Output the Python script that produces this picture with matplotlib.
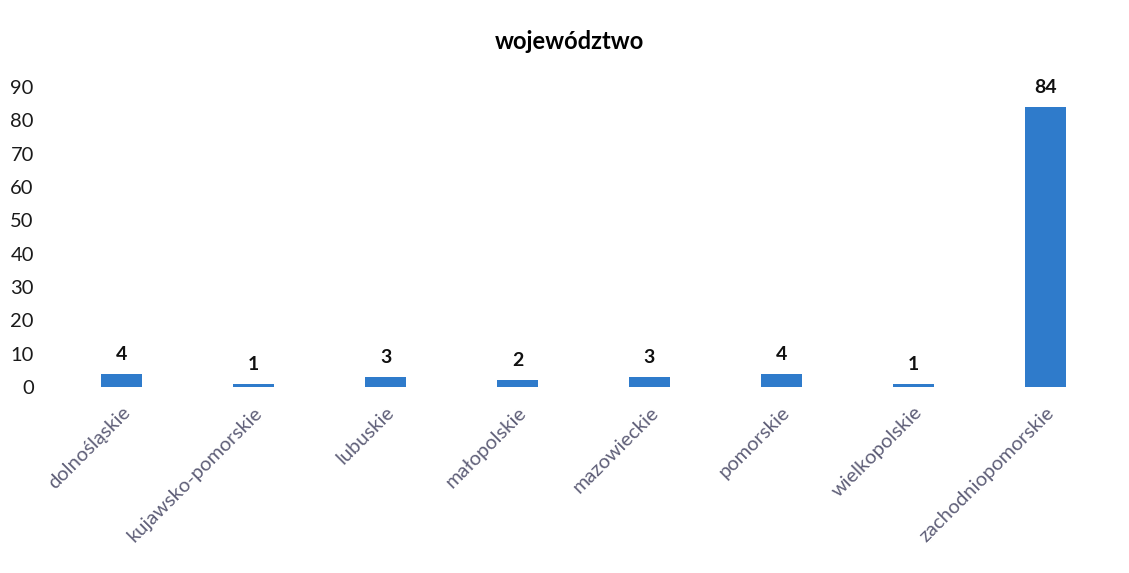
import matplotlib
matplotlib.use("Agg")
import matplotlib.pyplot as plt

# data
regions = ["dolnośląskie", "kujawsko-pomorskie", "lubuskie", "małopolskie",
           "mazowieckie", "pomorskie", "wielkopolskie", "zachodniopomorskie"]
counts = [4, 1, 3, 2, 3, 4, 1, 84]
yticks = [0, 10, 20, 30, 40, 50, 60, 70, 80, 90]

plt.rcParams['font.family'] = ['Lato', 'DejaVu Sans']

fig = plt.figure(figsize=(11.29, 5.73), dpi=100)
ax = fig.add_axes([0.0496, 0.3246, 0.9345, 0.5236])

x = list(range(len(regions)))
ax.bar(x, counts, width=0.31, color='#2f7bcb')

for xi, v in zip(x, counts):
    ax.annotate(str(v), (xi, v), xytext=(0, 8), textcoords='offset points',
                ha='center', va='bottom', fontsize=14, fontweight='bold', color='#111111')

ax.set_xlim(-0.5, 7.5)
ax.set_ylim(0, 90)
ax.set_yticks(yticks)
ax.set_yticklabels([str(t) for t in yticks], fontsize=14.5, color='#1a1a1a')
ax.set_xticks(x)
ax.set_xticklabels(regions, rotation=45, ha='right', va='top', rotation_mode='anchor',
                   fontsize=14.5, color='#5f5f78')
ax.tick_params(axis='both', length=0)
ax.tick_params(axis='y', pad=16)
ax.tick_params(axis='x', pad=12)
for s in ax.spines.values():
    s.set_visible(False)

fig.text(0.504, 0.927, "województwo", ha='center', va='center', fontsize=17, fontweight='bold')

fig.savefig("out.png", dpi=100, facecolor='white')
